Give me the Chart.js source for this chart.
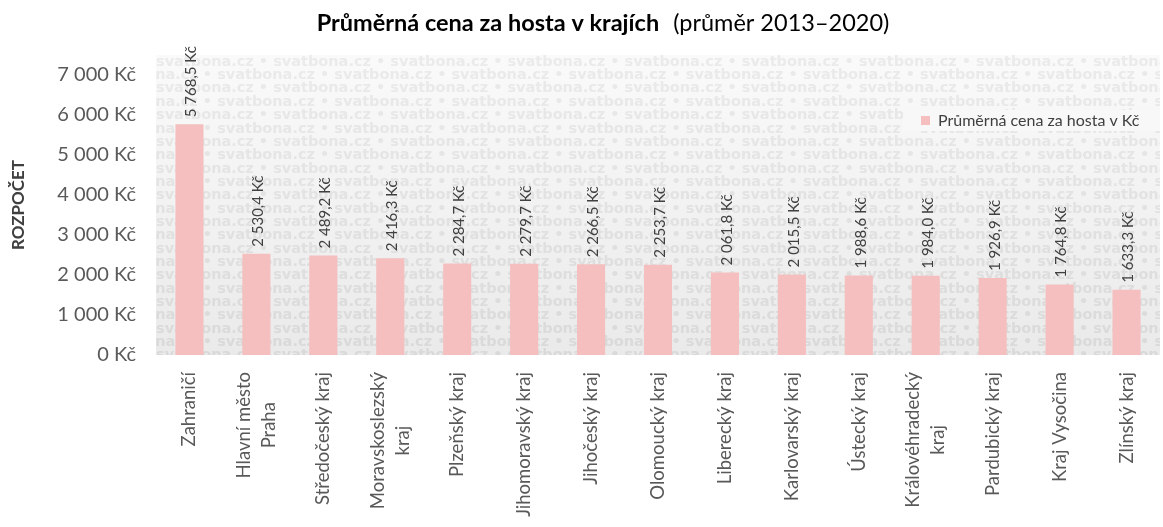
<!DOCTYPE html>
<html>
<head>
<meta charset="utf-8">
<script src="https://cdn.jsdelivr.net/npm/chart.js@4"></script>
<style>
  html, body { margin: 0; padding: 0; background: #fff; }
</style>
</head>
<body>
<canvas id="chart" width="1163" height="527"></canvas>
<script>
const regions = [
  'Zahraničí', ['Hlavní město', 'Praha'], 'Středočeský kraj', ['Moravskoslezský', 'kraj'],
  'Plzeňský kraj', 'Jihomoravský kraj', 'Jihočeský kraj', 'Olomoucký kraj',
  'Liberecký kraj', 'Karlovarský kraj', 'Ústecký kraj', ['Královéhradecký', 'kraj'],
  'Pardubický kraj', 'Kraj Vysočina', 'Zlínský kraj'
];
const avgPrice = [5768.5, 2530.4, 2489.2, 2416.3, 2284.7, 2279.7, 2266.5, 2253.7,
  2061.8, 2015.5, 1988.6, 1984.0, 1926.9, 1764.8, 1633.3];
const yTicks = [0, 1000, 2000, 3000, 4000, 5000, 6000, 7000];

const seriesName = 'Průměrná cena za hosta v Kč';
const titleBold = 'Průměrná cena za hosta v krajích';
const titleRest = '(průměr 2013–2020)';
const barColor = '#f5bfbf';
const FONT = 'Lato, "Open Sans", sans-serif';

function thousands(n) {
  return String(n).replace(/\B(?=(\d{3})+(?!\d))/g, ' ');
}

function fmtKc(v) {
  const parts = v.toFixed(1).split('.');
  return thousands(parts[0]) + ',' + parts[1] + ' Kč';
}

// plot background with the repeated watermark, fading out towards the top
const watermark = {
  id: 'watermark',
  beforeDatasetsDraw(chart) {
    const { ctx, chartArea: a } = chart;
    ctx.save();
    ctx.beginPath();
    ctx.rect(a.left, a.top, a.right - a.left, a.bottom - a.top);
    ctx.clip();
    const bg = ctx.createLinearGradient(0, a.top, 0, a.bottom);
    bg.addColorStop(0, '#fafafa');
    bg.addColorStop(1, '#eaeaea');
    ctx.fillStyle = bg;
    ctx.fillRect(a.left, a.top, a.right - a.left, a.bottom - a.top);
    const fg = ctx.createLinearGradient(0, a.top, 0, a.bottom);
    fg.addColorStop(0, '#ebebeb');
    fg.addColorStop(1, '#d9d9d9');
    ctx.fillStyle = fg;
    ctx.font = 'bold 14.5px "DejaVu Sans", sans-serif';
    ctx.textBaseline = 'middle';
    const unit = 'svatbona.cz • ';
    const line = unit.repeat(12);
    const step = 13.35;
    let row = 0;
    for (let y = a.top + 7; y < a.bottom + step; y += step, row++) {
      const off = row % 2 ? -56 : 0;
      ctx.fillText(line, a.left + off, y);
    }
    ctx.restore();
  }
};

// value labels, rotated, above each bar
const barLabels = {
  id: 'barLabels',
  afterDatasetsDraw(chart) {
    const { ctx } = chart;
    const meta = chart.getDatasetMeta(0);
    ctx.save();
    ctx.font = '15px ' + FONT;
    ctx.fillStyle = '#404040';
    ctx.textAlign = 'left';
    ctx.textBaseline = 'middle';
    meta.data.forEach((bar, i) => {
      ctx.save();
      ctx.translate(bar.x + 2, bar.y - 7);
      ctx.rotate(-Math.PI / 2);
      ctx.fillText(fmtKc(avgPrice[i]), 0, 0);
      ctx.restore();
    });
    ctx.restore();
  }
};

// category labels, rotated, multi-line blocks centred on the bar
const catLabels = {
  id: 'catLabels',
  afterDraw(chart) {
    const { ctx, chartArea: a } = chart;
    const xs = chart.scales.x;
    const lineH = 25;
    ctx.save();
    ctx.font = '18.5px ' + FONT;
    ctx.fillStyle = '#595959';
    ctx.textAlign = 'center';
    ctx.textBaseline = 'middle';
    regions.forEach((lab, i) => {
      const lines = Array.isArray(lab) ? lab : [lab];
      const w = Math.max(...lines.map(l => ctx.measureText(l).width));
      ctx.save();
      ctx.translate(xs.getPixelForValue(i), a.bottom + 17);
      ctx.rotate(-Math.PI / 2);
      lines.forEach((l, k) => {
        ctx.fillText(l, -w / 2, (k - (lines.length - 1) / 2) * lineH);
      });
      ctx.restore();
    });
    ctx.restore();
  }
};

// title with bold and regular parts, plus the inner legend
const titleLegend = {
  id: 'titleLegend',
  afterDraw(chart) {
    const { ctx } = chart;
    ctx.save();
    ctx.textBaseline = 'alphabetic';
    ctx.fillStyle = '#000';
    ctx.font = 'bold 23.5px ' + FONT;
    const w1 = ctx.measureText(titleBold).width;
    ctx.font = '23.5px ' + FONT;
    const w2 = ctx.measureText(titleRest).width;
    const gap = 14;
    const x = 603 - (w1 + gap + w2) / 2;
    ctx.textAlign = 'left';
    ctx.font = 'bold 23.5px ' + FONT;
    ctx.fillText(titleBold, x, 31);
    ctx.font = '23.5px ' + FONT;
    ctx.fillText(titleRest, x + w1 + gap, 31);

    ctx.fillStyle = '#f8f8f8';
    ctx.fillRect(903, 110, 257, 21);
    ctx.fillStyle = barColor;
    ctx.fillRect(921, 116, 9, 9);
    ctx.fillStyle = '#404040';
    ctx.font = '16px ' + FONT;
    ctx.textBaseline = 'middle';
    ctx.fillText(seriesName, 938, 121);
    ctx.restore();
  }
};

new Chart(document.getElementById('chart'), {
  type: 'bar',
  data: {
    labels: regions,
    datasets: [{
      label: seriesName,
      data: avgPrice,
      backgroundColor: barColor,
      borderWidth: 0,
      categoryPercentage: 1,
      barPercentage: 0.42,
    }],
  },
  options: {
    responsive: false,
    animation: false,
    layout: { padding: { top: 55, right: 3, left: 0, bottom: 0 } },
    plugins: {
      legend: { display: false },
      title: { display: false },
      tooltip: { enabled: false },
    },
    scales: {
      x: {
        grid: { display: false },
        border: { display: false },
        ticks: { display: false },
        afterFit(scale) { scale.height = 172; },
      },
      y: {
        min: 0,
        max: 7500,
        grid: { display: false },
        border: { display: false },
        afterBuildTicks(scale) {
          scale.ticks = yTicks.map(v => ({ value: v }));
        },
        afterFit(scale) { scale.width = 156; },
        ticks: {
          padding: 12,
          color: '#595959',
          font: { family: FONT, size: 20 },
          callback: v => thousands(v) + ' Kč',
        },
        title: {
          display: true,
          text: 'ROZPOČET',
          color: '#404040',
          font: { family: FONT, size: 17, weight: 'bold' },
          padding: { top: 8, bottom: 0 },
        },
      },
    },
  },
  plugins: [watermark, barLabels, catLabels, titleLegend],
});
</script>
</body>
</html>
